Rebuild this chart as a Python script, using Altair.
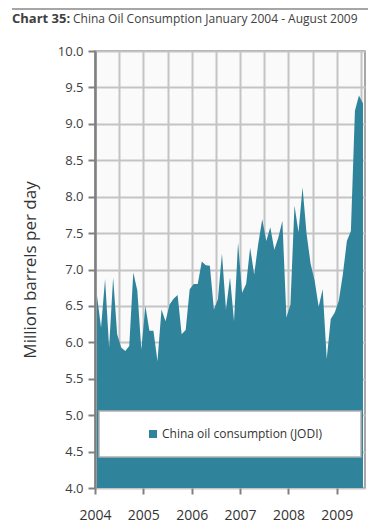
import altair as alt
import pandas as pd

# ---- data ----
months = [f"{y}-{m:02d}" for y in range(2004, 2010) for m in range(1, 13)][:67]
values = [
    6.64, 6.20, 6.87, 5.93, 6.89, 6.11, 5.93, 5.88, 5.95, 6.96, 6.71, 5.90,
    6.50, 6.16, 6.16, 5.74, 6.45, 6.29, 6.52, 6.60, 6.65, 6.11, 6.17, 6.73,
    6.80, 6.80, 7.11, 7.06, 7.05, 6.45, 6.59, 7.22, 6.45, 6.89, 6.29, 7.37,
    6.68, 6.80, 7.30, 6.93, 7.35, 7.69, 7.39, 7.58, 7.27, 7.44, 7.67, 6.34,
    6.52, 7.88, 7.51, 8.13, 7.49, 7.08, 6.85, 6.49, 6.73, 5.77, 6.32, 6.41,
    6.57, 6.93, 7.39, 7.53, 9.18, 9.39, 9.28,
]
series_name = "China oil consumption (JODI)"
first_year = 2004
y_ticks = [4.0, 4.5, 5.0, 5.5, 6.0, 6.5, 7.0, 7.5, 8.0, 8.5, 9.0, 9.5, 10.0]
title_bold = "Chart 35:"
title_rest = "China Oil Consumption January 2004 - August 2009"
y_title = "Million barrels per day"

t_vals = [(int(m[:4]) - first_year) * 12 + int(m[5:]) - 1 + 0.5 for m in months]
df = pd.DataFrame({"month": months, "t": t_vals, "value": values, "series": series_name})
one = pd.DataFrame({"k": [0]})

TEAL = "#2f839b"
FONT = "Open Sans"
W, H = 270, 437

x_enc = alt.X(
    "t:Q",
    scale=alt.Scale(domain=[0, 67], nice=False, zero=False),
    axis=alt.Axis(
        values=list(range(0, 67, 6)),
        title=None,
        grid=True,
        gridColor="#c4c4c4",
        gridWidth=2,
        domain=False,
        tickColor="#808080",
        tickWidth=2,
        tickSize=6,
        tickOpacity={"condition": {"test": "datum.value % 12 === 0", "value": 1}, "value": 0},
        labelExpr=f"datum.value % 12 === 0 ? '' + ({first_year} + datum.value / 12) : ''",
        labelFlush=False,
        labelOverlap=False,
        labelFont=FONT,
        labelFontSize=14,
        labelColor="#333333",
        labelPadding=14,
    ),
)
y_enc = alt.Y(
    "value:Q",
    scale=alt.Scale(domain=[4, 10], nice=False, zero=False),
    axis=alt.Axis(
        values=y_ticks,
        format=".1f",
        title=y_title,
        grid=True,
        gridColor="#c4c4c4",
        gridWidth=2,
        domainColor="#808080",
        domainWidth=2.5,
        tickColor="#808080",
        tickWidth=2,
        tickSize=7,
        labelFont=FONT,
        labelFontSize=13,
        labelColor="#404040",
        labelPadding=5,
        titleFont=FONT,
        titleFontSize=17,
        titleFontWeight="normal",
        titleColor="#333333",
        titleX=-65,
        titleY=H / 2,
        titleBaseline="middle",
    ),
)

area = alt.Chart(df).mark_area(opacity=1, interpolate="linear").encode(
    x=x_enc,
    y=y_enc,
    y2=alt.datum(4),
    color=alt.Color(
        "series:N",
        scale=alt.Scale(range=[TEAL]),
        legend=alt.Legend(
            orient="none",
            legendX=52,
            legendY=377,
            title=None,
            symbolType="square",
            symbolSize=64,
            symbolStrokeWidth=0,
            labelFont=FONT,
            labelFontSize=12,
            labelColor="#333333",
            labelOffset=3,
            labelLimit=400,
            padding=0,
        ),
    ),
)

legend_box = alt.Chart(one).mark_rect(fill="white", stroke="#b0b0b0", strokeWidth=1.5).encode(
    x=alt.value(4), x2=alt.value(266), y=alt.value(360), y2=alt.value(406)
)

top_line = alt.Chart(one).mark_rule(color="#888888", strokeWidth=1.5).encode(
    x=alt.value(-83), x2=alt.value(273), y=alt.value(-42)
)
t1 = alt.Chart(one).mark_text(
    text=title_bold, font=FONT, fontSize=13, fontWeight="bold", color="#404040",
    align="left", baseline="alphabetic",
).encode(x=alt.value(-83), y=alt.value(-28))
t2 = alt.Chart(one).mark_text(
    text=title_rest, font=FONT, fontSize=12, color="#404040",
    align="left", baseline="alphabetic",
).encode(x=alt.value(-22), y=alt.value(-28))

chart = (
    alt.layer(area, legend_box, top_line, t1, t2)
    .properties(
        width=W,
        height=H,
        autosize=alt.AutoSizeParams(type="none"),
        padding={"left": 87, "top": 43, "right": 15, "bottom": 35},
    )
    .configure_view(fill="#fafafa", stroke="#8c8c8c", strokeWidth=1.5)
)

chart.save("out.html", embed_options={"renderer": "svg", "actions": False})
